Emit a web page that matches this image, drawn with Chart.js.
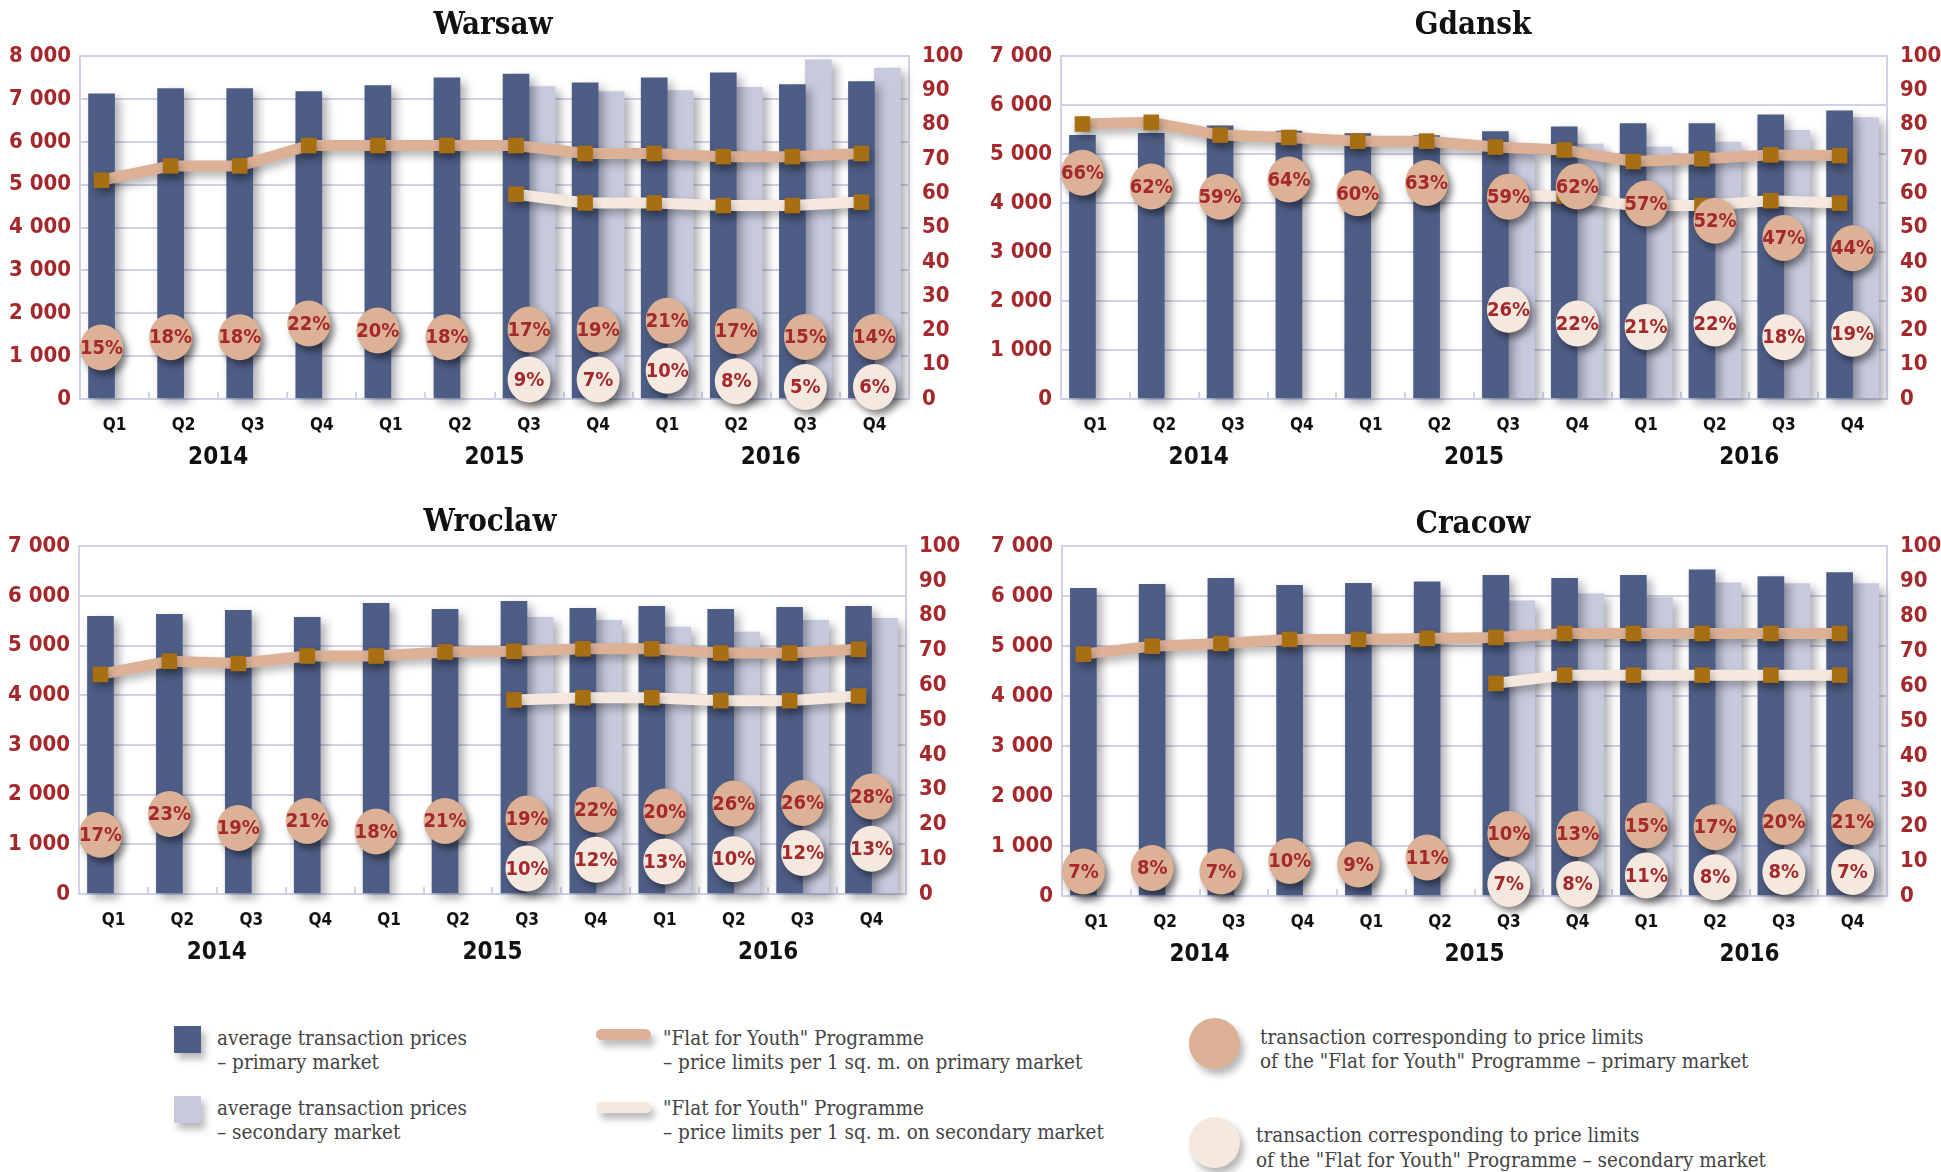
<!DOCTYPE html>
<html>
<head>
<meta charset="utf-8">
<script src="https://cdn.jsdelivr.net/npm/chart.js@4.4.1/dist/chart.umd.min.js"></script>
<style>
  body { margin: 0; background: #fff; }
  #page { position: relative; width: 1941px; height: 1172px; overflow: hidden; background: #fff; }
  canvas { position: absolute; }
  .title {
    position: absolute; transform: translate(-50%, -50%);
    font: bold 31px 'DejaVu Serif Condensed', 'DejaVu Serif', serif; color: #111; white-space: nowrap;
  }
  .lg-text {
    position: absolute; white-space: nowrap;
    font-family: 'DejaVu Serif Condensed', 'DejaVu Serif', serif; font-size: 20.5px; line-height: 24px; color: #444;
  }
  .sw { position: absolute; box-shadow: 4px 6px 7px rgba(0,0,0,0.28); }
</style>
</head>
<body>
<div id="page">
  <canvas id="warsaw" width="970" height="445" style="left:0;top:30px"></canvas>
  <canvas id="gdansk" width="971" height="445" style="left:970px;top:30px"></canvas>
  <canvas id="wroclaw" width="970" height="450" style="left:0;top:520px"></canvas>
  <canvas id="cracow" width="971" height="452" style="left:970px;top:520px"></canvas>

  <div class="title" style="left:493px;top:23px">Warsaw</div>
  <div class="title" style="left:1473px;top:23px">Gdansk</div>
  <div class="title" style="left:490px;top:520px">Wroclaw</div>
  <div class="title" style="left:1473px;top:522px">Cracow</div>

  <div class="sw" style="left:174px;top:1026px;width:27px;height:27px;background:#4e5d85"></div>
  <div class="lg-text" style="left:217px;top:1026px">average transaction prices<br>– primary market</div>
  <div class="sw" style="left:174px;top:1096px;width:27px;height:27px;background:#c6cadc"></div>
  <div class="lg-text" style="left:217px;top:1096px">average transaction prices<br>– secondary market</div>

  <div class="sw" style="left:596px;top:1029px;width:55px;height:11px;border-radius:6px;background:#dcb196"></div>
  <div class="lg-text" style="left:663px;top:1026px">"Flat for Youth" Programme<br>– price limits per 1 sq. m. on primary market</div>
  <div class="sw" style="left:596px;top:1102px;width:55px;height:11px;border-radius:6px;background:#f5e9df"></div>
  <div class="lg-text" style="left:663px;top:1096px">"Flat for Youth" Programme<br>– price limits per 1 sq. m. on secondary market</div>

  <div class="sw" style="left:1189px;top:1018px;width:51px;height:51px;border-radius:50%;background:#dcb196"></div>
  <div class="lg-text" style="left:1260px;top:1025px">transaction corresponding to price limits<br>of the "Flat for Youth" Programme – primary market</div>
  <div class="sw" style="left:1189px;top:1117px;width:51px;height:51px;border-radius:50%;background:#f5e9df"></div>
  <div class="lg-text" style="left:1256px;top:1123px;line-height:25px">transaction corresponding to price limits<br>of the "Flat for Youth" Programme – secondary market</div>
</div>

<script>
const quarters = ['Q1', 'Q2', 'Q3', 'Q4', 'Q1', 'Q2', 'Q3', 'Q4', 'Q1', 'Q2', 'Q3', 'Q4'];
const years = ['2014', '2015', '2016'];
const n6 = [null, null, null, null, null, null];

// average transaction prices, PLN per sq. m.
const warsawPrimary = [7120, 7245, 7245, 7175, 7315, 7495, 7585, 7380, 7495, 7610, 7335, 7405];
const warsawSecondary = [...n6, 7290, 7175, 7200, 7275, 7915, 7725];
const gdanskPrimary = [5385, 5425, 5580, 5470, 5420, 5380, 5460, 5560, 5625, 5625, 5805, 5885];
const gdanskSecondary = [...n6, 5040, 5205, 5145, 5245, 5485, 5745];
const wroclawPrimary = [5590, 5630, 5710, 5570, 5850, 5730, 5890, 5750, 5790, 5730, 5770, 5790];
const wroclawSecondary = [...n6, 5570, 5510, 5370, 5270, 5510, 5550];
const cracowPrimary = [6155, 6235, 6355, 6215, 6255, 6285, 6415, 6355, 6415, 6525, 6390, 6470];
const cracowSecondary = [...n6, 5905, 6045, 5970, 6265, 6250, 6250];

// "Flat for Youth" price limits per sq. m.
const warsawLimitPrimary = [5105, 5440, 5440, 5915, 5915, 5915, 5915, 5730, 5730, 5655, 5655, 5730];
const warsawLimitSecondary = [...n6, 4780, 4575, 4575, 4515, 4515, 4595];
const gdanskLimitPrimary = [5615, 5650, 5390, 5340, 5265, 5265, 5145, 5085, 4850, 4905, 4985, 4970];
const gdanskLimitSecondary = [...n6, 4150, 4140, 3950, 3950, 4050, 4000];
const wroclawLimitPrimary = [4420, 4685, 4640, 4790, 4790, 4870, 4885, 4935, 4935, 4850, 4850, 4925];
const wroclawLimitSecondary = [...n6, 3905, 3950, 3950, 3890, 3890, 3985];
const cracowLimitPrimary = [4840, 5000, 5055, 5135, 5135, 5155, 5175, 5255, 5255, 5255, 5255, 5255];
const cracowLimitSecondary = [...n6, 4255, 4420, 4420, 4420, 4420, 4420];

// share of transactions within the limits, %
const warsawSharePrimary = [15, 18, 18, 22, 20, 18, 17, 19, 21, 17, 15, 14];
const warsawShareSecondary = [...n6, 9, 7, 10, 8, 5, 6];
const gdanskSharePrimary = [66, 62, 59, 64, 60, 63, 59, 62, 57, 52, 47, 44];
const gdanskShareSecondary = [...n6, 26, 22, 21, 22, 18, 19];
const wroclawSharePrimary = [17, 23, 19, 21, 18, 21, 19, 22, 20, 26, 26, 28];
const wroclawShareSecondary = [...n6, 10, 12, 13, 10, 12, 13];
const cracowSharePrimary = [7, 8, 7, 10, 9, 11, 10, 13, 15, 17, 20, 21];
const cracowShareSecondary = [...n6, 7, 8, 11, 8, 8, 7];

const RED = '#a4282c';
const BAR_PRIMARY = '#4e5d85';
const BAR_SECONDARY = '#c6cadc';
const LIMIT_PRIMARY = '#dcb196';
const LIMIT_SECONDARY = '#f5e9df';
const MARKER = '#a86e12';
const GRID = '#d0d3e6';
const NUM_FONT = "'Liberation Sans Narrow', 'DejaVu Sans Condensed', 'Roboto Condensed', 'DejaVu Sans', sans-serif";

const BAR_WIDTH = 26;
const CAT_WIDTH = 69;
const LINE_SHIFT = (BAR_WIDTH / 2) / CAT_WIDTH; // lines sit over the primary bar

const panels = [
  { id: 'warsaw', yMax: 8000, padTop: 19, yWidth: 80, y2Width: 61,
    primary: warsawPrimary, secondary: warsawSecondary,
    limitPrimary: warsawLimitPrimary, limitSecondary: warsawLimitSecondary,
    sharePrimary: warsawSharePrimary, shareSecondary: warsawShareSecondary },
  { id: 'gdansk', yMax: 7000, padTop: 19, yWidth: 91, y2Width: 54,
    primary: gdanskPrimary, secondary: gdanskSecondary,
    limitPrimary: gdanskLimitPrimary, limitSecondary: gdanskLimitSecondary,
    sharePrimary: gdanskSharePrimary, shareSecondary: gdanskShareSecondary },
  { id: 'wroclaw', yMax: 7000, padTop: 23, yWidth: 79, y2Width: 64,
    primary: wroclawPrimary, secondary: wroclawSecondary,
    limitPrimary: wroclawLimitPrimary, limitSecondary: wroclawLimitSecondary,
    sharePrimary: wroclawSharePrimary, shareSecondary: wroclawShareSecondary },
  { id: 'cracow', yMax: 7000, padTop: 25, yWidth: 92, y2Width: 54,
    primary: cracowPrimary, secondary: cracowSecondary,
    limitPrimary: cracowLimitPrimary, limitSecondary: cracowLimitSecondary,
    sharePrimary: cracowSharePrimary, shareSecondary: cracowShareSecondary }
];

// soft drop shadow for any dataset that carries a `shadow` entry
const datasetShadow = {
  id: 'datasetShadow',
  beforeDatasetDraw(chart, args) {
    const s = chart.data.datasets[args.index].shadow;
    if (!s) return;
    const ctx = chart.ctx;
    ctx.save();
    ctx.shadowColor = s.color;
    ctx.shadowBlur = s.blur;
    ctx.shadowOffsetX = s.x;
    ctx.shadowOffsetY = s.y;
  },
  afterDatasetDraw(chart, args) {
    if (chart.data.datasets[args.index].shadow) chart.ctx.restore();
  }
};

// round badges with the share of transactions, placed on the right (%) axis
const shareBadges = {
  id: 'shareBadges',
  afterDatasetsDraw(chart, args, opts) {
    const { ctx, chartArea } = chart;
    const xs = chart.scales.x, xl = chart.scales.x2, ys = chart.scales.y2;
    const gap = 50;
    const drawBadge = (x, y, value, fill) => {
      ctx.save();
      ctx.shadowColor = 'rgba(0,0,0,0.45)';
      ctx.shadowBlur = 7;
      ctx.shadowOffsetX = 4;
      ctx.shadowOffsetY = 5;
      ctx.beginPath();
      ctx.ellipse(x, y, 21.5, 23, 0, 0, Math.PI * 2);
      ctx.fillStyle = fill;
      ctx.fill();
      ctx.restore();
      ctx.save();
      ctx.fillStyle = RED;
      ctx.font = 'bold 20px ' + NUM_FONT;
      ctx.textAlign = 'center';
      ctx.textBaseline = 'middle';
      ctx.fillText(value + '%', x, y + 1);
      ctx.restore();
    };
    opts.primary.forEach((p, i) => {
      const s = opts.secondary[i];
      let yp = ys.getPixelForValue(p);
      if (s == null) {
        drawBadge(xl.getPixelForValue(i), yp, p, LIMIT_PRIMARY);
        return;
      }
      let yq = ys.getPixelForValue(s);
      if (yq - yp < gap) {
        const mid = (yp + yq) / 2;
        yq = Math.min(mid + gap / 2, chartArea.bottom - 12);
        yp = yq - gap;
      }
      const x = xs.getPixelForValue(i);
      drawBadge(x, yp, p, LIMIT_PRIMARY);
      drawBadge(x, yq, s, LIMIT_SECONDARY);
    });
  }
};

function thousands(v) {
  return String(v).replace(/\B(?=(\d{3})+(?!\d))/g, ' ');
}

function barDataset(values, color, order) {
  return {
    type: 'bar', data: values, backgroundColor: color, order,
    xAxisID: 'x', yAxisID: 'y',
    barThickness: BAR_WIDTH, clip: false,
    shadow: { color: 'rgba(20,20,40,0.35)', blur: 10, x: 5, y: 5 }
  };
}

function limitDataset(values, color, order) {
  return {
    type: 'line', order, xAxisID: 'x2', yAxisID: 'y',
    data: values.map((v, i) => ({ x: i, y: v })).filter(pt => pt.y != null),
    borderColor: color, borderWidth: 11, borderJoinStyle: 'round', tension: 0,
    pointStyle: 'rect', pointRadius: 11, pointBorderWidth: 0, pointBackgroundColor: MARKER,
    clip: false,
    shadow: { color: 'rgba(0,0,0,0.3)', blur: 8, x: 2, y: 5 }
  };
}

panels.forEach(p => {
  new Chart(document.getElementById(p.id), {
    type: 'bar',
    data: {
      labels: quarters,
      datasets: [
        limitDataset(p.limitPrimary, LIMIT_PRIMARY, 1),
        limitDataset(p.limitSecondary, LIMIT_SECONDARY, 2),
        barDataset(p.primary, BAR_PRIMARY, 3),
        barDataset(p.secondary, BAR_SECONDARY, 4)
      ]
    },
    options: {
      responsive: false,
      animation: false,
      events: [],
      layout: { padding: { top: p.padTop, left: 0, right: 0, bottom: 0 } },
      plugins: {
        legend: { display: false },
        tooltip: { enabled: false },
        shareBadges: { primary: p.sharePrimary, secondary: p.shareSecondary }
      },
      scales: {
        x: {
          type: 'category', position: 'bottom', weight: 1, offset: true,
          // short marks between quarters, pointing up into the plot
          grid: { display: true, offset: true, drawOnChartArea: false, drawTicks: true,
                  tickLength: -7, color: GRID, lineWidth: 2 },
          border: { display: true, color: GRID, width: 2 },
          ticks: { color: '#111', padding: 23, autoSkip: false, maxRotation: 0,
                   font: { family: NUM_FONT, size: 17, weight: 'bold' } },
          afterFit: s => { s.height = 36; }
        },
        x3: {
          type: 'category', position: 'bottom', weight: 2, offset: true, labels: years,
          grid: { display: false }, border: { display: false },
          ticks: { color: '#111', padding: 0, maxRotation: 0,
                   font: { family: NUM_FONT, size: 24, weight: 'bold' } },
          afterFit: s => { s.height = 40; }
        },
        x2: {
          type: 'linear', display: false, offset: false, bounds: 'data',
          min: -0.5 + LINE_SHIFT, max: quarters.length - 0.5 + LINE_SHIFT
        },
        y: {
          position: 'left', min: 0, max: p.yMax,
          grid: { color: GRID, lineWidth: 2, drawTicks: false },
          border: { color: GRID, width: 2 },
          ticks: { stepSize: 1000, color: RED, padding: 9, callback: v => thousands(v),
                   font: { family: NUM_FONT, size: 22, weight: 'bold' } },
          afterFit: s => { s.width = p.yWidth; }
        },
        y2: {
          position: 'right', min: 0, max: 100,
          grid: { drawOnChartArea: false, drawTicks: false },
          border: { color: GRID, width: 2 },
          ticks: { stepSize: 10, color: RED, padding: 13,
                   font: { family: NUM_FONT, size: 22, weight: 'bold' } },
          afterFit: s => { s.width = p.y2Width; }
        }
      }
    },
    plugins: [datasetShadow, shareBadges]
  });
});
</script>
</body>
</html>
